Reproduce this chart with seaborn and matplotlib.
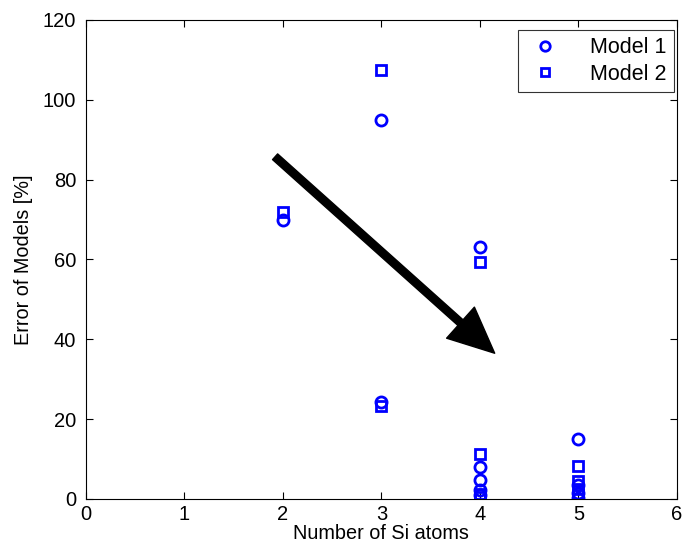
import matplotlib
matplotlib.use("Agg")
import matplotlib.pyplot as plt
import seaborn as sns
import pandas as pd

sns.set_style("white")
plt.rcParams['font.family'] = ['Liberation Sans', 'DejaVu Sans']
plt.rcParams['text.color'] = 'black'
plt.rcParams['axes.labelcolor'] = 'black'
plt.rcParams['xtick.color'] = 'black'
plt.rcParams['ytick.color'] = 'black'

# Data
m1_x = [2, 3, 3, 4, 4, 4, 4, 4, 5, 5, 5, 5]
m1_y = [69.8, 95.0, 24.3, 63.0, 8.0, 4.8, 2.2, 1.0, 15.0, 3.5, 1.5, 0.3]
m2_x = [2, 3, 3, 4, 4, 4, 4, 5, 5, 5, 5]
m2_y = [71.8, 107.5, 23.3, 59.4, 11.3, 1.2, 0.5, 8.2, 4.6, 2.6, 1.0]

xticks = [0, 1, 2, 3, 4, 5, 6]
yticks = [0, 20, 40, 60, 80, 100, 120]
xlabel = "Number of Si atoms"
ylabel = "Error of Models [%]"

df1 = pd.DataFrame({"x": m1_x, "y": m1_y})
df2 = pd.DataFrame({"x": m2_x, "y": m2_y})

fig = plt.figure(figsize=(6.91, 5.54), dpi=100)
ax = fig.add_axes([0.1245, 0.0993, 0.855, 0.865])

sns.lineplot(data=df1, x="x", y="y", ax=ax, linestyle="", marker="o",
             markersize=8, markerfacecolor="none", markeredgecolor="blue",
             markeredgewidth=2, color="blue", label="Model 1", estimator=None,
             sort=False)
sns.lineplot(data=df2, x="x", y="y", ax=ax, linestyle="", marker="s",
             markersize=6.5, markerfacecolor="none", markeredgecolor="blue",
             markeredgewidth=2, color="blue", label="Model 2", estimator=None,
             sort=False)

ax.annotate("", xy=(4.15, 36.5), xytext=(1.92, 85.7),
            arrowprops=dict(facecolor="black", edgecolor="black", width=5.5,
                            headwidth=30, headlength=33, shrink=0))

ax.set_xlim(0, 6)
ax.set_ylim(0, 120)
ax.set_xticks(xticks)
ax.set_yticks(yticks)
ax.set_xlabel(xlabel, fontsize=14.3, labelpad=0)
ax.set_ylabel(ylabel, fontsize=14.3, labelpad=7)
ax.tick_params(direction="in", length=5, width=0.8, labelsize=14.5,
               top=True, right=True, bottom=True, left=True, color="black",
               pad=4)
ax.tick_params(axis="y", pad=7)
for s in ax.spines.values():
    s.set_color("black")
    s.set_linewidth(0.8)

leg = ax.legend(loc="upper right", bbox_to_anchor=(0.995, 0.979),
                borderaxespad=0, fontsize=15.5, frameon=True, fancybox=False,
                edgecolor="black", handletextpad=1.2, handlelength=1.8,
                borderpad=0.35, labelspacing=0.25, markerscale=0.85)
leg.get_frame().set_linewidth(0.8)

fig.savefig("out.png", dpi=100)
